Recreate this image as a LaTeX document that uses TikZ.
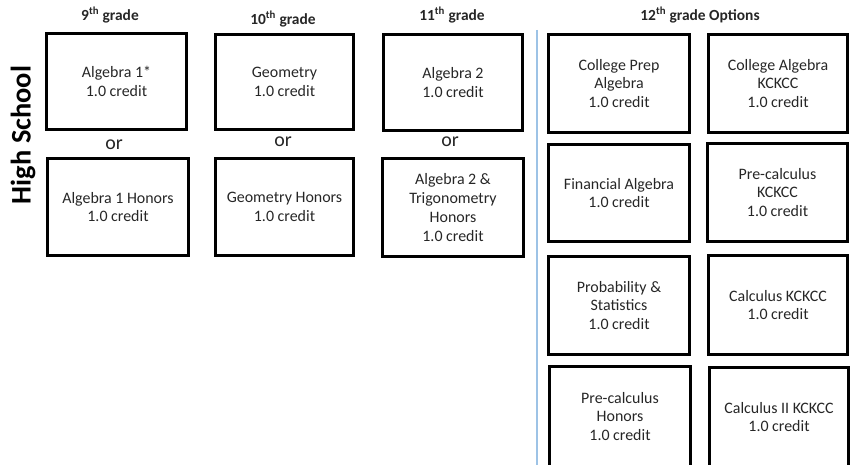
\documentclass[tikz,border=0pt]{standalone}
\usepackage{fontspec}
\setmainfont{Carlito}
\definecolor{txt}{HTML}{262626}
\definecolor{sep}{HTML}{9DC3E6}
\tikzset{
  cbox/.style={draw=black, line width=2.6bp, align=center, text=txt,
    font=\fontsize{16}{19}\selectfont, inner sep=0pt},
  hdr/.style={font=\bfseries\fontsize{15.5}{17}\selectfont, text=txt, inner sep=0pt},
  ortxt/.style={font=\fontsize{20}{22}\selectfont, text=txt, inner sep=0pt}
}
\newcommand{\bx}[6]{% name, cx, cy, w, h, text
  \node[cbox, minimum width=#4bp-2.6bp, minimum height=#5bp-2.6bp] (#1) at (#2,#3) {#6};}
\begin{document}
\begin{tikzpicture}[x=1bp,y=-1bp]
\useasboundingbox (0,0) rectangle (850,465);
\node[rotate=90, font=\bfseries\fontsize{28.5}{30}\selectfont, text=black, inner sep=0pt] (hs) at (23,135) {High School};
% headers
\node[hdr] (h9) at (110,15) {9\textsuperscript{th} grade};
\node[hdr] (h10) at (283,19) {10\textsuperscript{th} grade};
\node[hdr] (h11) at (452,15) {11\textsuperscript{th} grade};
\node[hdr] (h12) at (700,15) {12\textsuperscript{th} grade Options};
% separator
\coordinate (s1) at (537,30);
\coordinate (s2) at (537,466);
\draw[sep, line width=1.5bp] (s1) -- (s2);
% grade boxes
\bx{a1}{116.5}{81.5}{143}{99}{Algebra 1*\\1.0 credit}
\bx{a1h}{118}{207}{144}{100}{Algebra 1 Honors\\1.0 credit}
\bx{g}{284.5}{82}{141}{98}{Geometry\\1.0 credit}
\bx{gh}{284.5}{207}{141}{100}{Geometry Honors\\1.0 credit}
\bx{a2}{453}{82.5}{142}{99}{Algebra 2\\1.0 credit}
\bx{a2t}{453}{207.5}{144}{101}{Algebra 2 \&\\Trigonometry\\Honors\\1.0 credit}
\node[ortxt] (or1) at (114,145) {or};
\node[ortxt] (or2) at (283,142) {or};
\node[ortxt] (or3) at (450,142) {or};
% 12th grade options
\bx{r1a}{619}{83.5}{144}{101}{College Prep\\Algebra\\1.0 credit}
\bx{r1b}{778}{83.5}{142}{101}{College Algebra\\KCKCC\\1.0 credit}
\bx{r2a}{619}{193}{144}{100}{Financial Algebra\\1.0 credit}
\bx{r2b}{777.5}{192.5}{143}{101}{Pre-calculus\\KCKCC\\1.0 credit}
\bx{r3a}{619}{305.5}{144}{101}{Probability \&\\Statistics\\1.0 credit}
\bx{r3b}{778}{305}{142}{102}{Calculus KCKCC\\1.0 credit}
\bx{r4a}{620}{416.5}{144}{103}{Pre-calculus\\Honors\\1.0 credit}
\bx{r4b}{779}{417}{142}{102}{Calculus II KCKCC\\1.0 credit}
\end{tikzpicture}
\end{document}
